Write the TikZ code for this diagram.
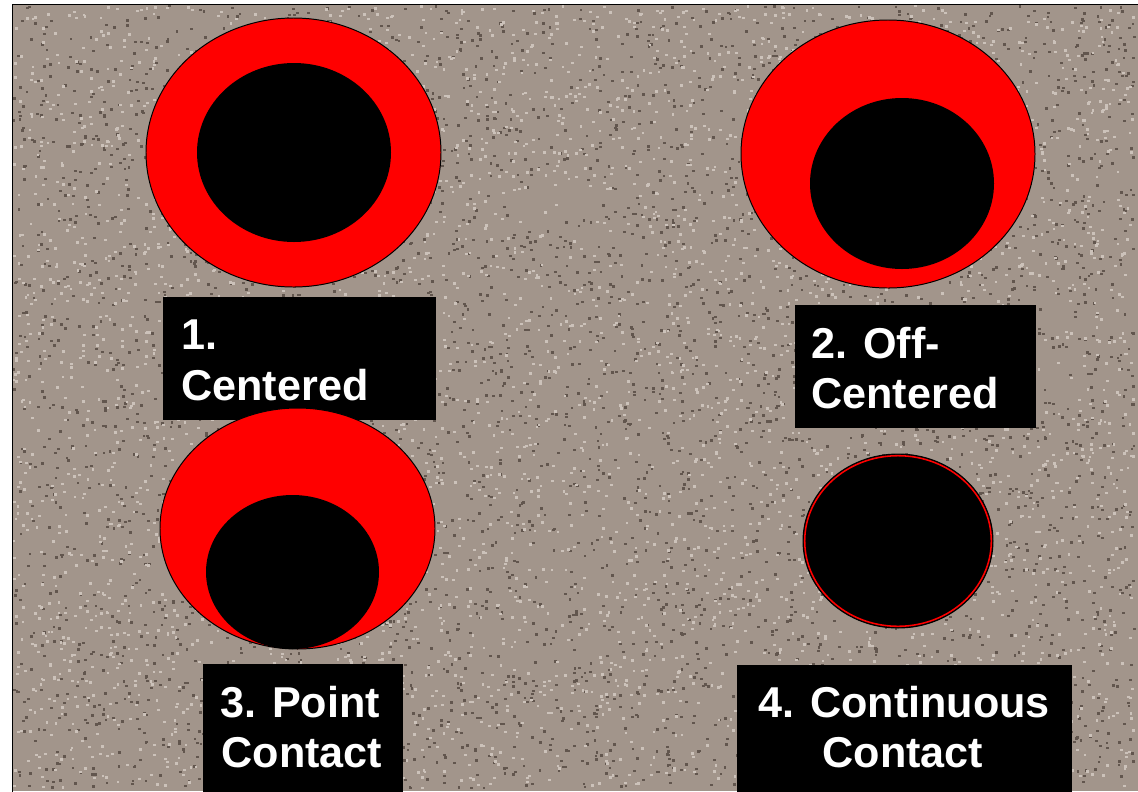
\documentclass[tikz,border=0pt]{standalone}
\usepackage{fontspec}
\setmainfont{Liberation Sans}
\usetikzlibrary{positioning}
\definecolor{granite}{RGB}{162,149,139}
\definecolor{granlight}{RGB}{204,194,186}
\definecolor{grandark}{RGB}{98,86,78}
\definecolor{holered}{RGB}{255,0,0}

\begin{document}
\begin{tikzpicture}[x=0.025cm,y=-0.025cm,
  hole/.style={fill=holered,draw=black,line width=0.7pt},
  pipe/.style={fill=black},
  tagbox/.style={fill=black},
  caption/.style={text=white,inner sep=0pt,
    font=\fontsize{30.7}{36}\selectfont\bfseries},
]
  \useasboundingbox (0,0) rectangle (1138,791);

  % granite backdrop
  \fill[granite] (12,4.5) rectangle (1138,791);
  \pgfmathsetseed{17}
  \foreach \i in {1,...,4500}{
    \pgfmathsetmacro\px{12+1121*rnd}
    \pgfmathsetmacro\py{5+782*rnd}
    \fill[grandark] (\px,\py) rectangle ++(2.8,2.4);
  }
  \foreach \i in {1,...,4500}{
    \pgfmathsetmacro\px{12+1121*rnd}
    \pgfmathsetmacro\py{5+782*rnd}
    \fill[granlight] (\px,\py) rectangle ++(2.8,2.4);
  }
  \draw[line width=1.1pt] (12.5,795) -- (12.5,4.5) -- (1142,4.5);

  % 1. centered
  \draw[hole] (293.5,152.5) ellipse[x radius=147.5,y radius=134.5];
  \fill[pipe] (294,152.5) ellipse[x radius=97,y radius=89.5];
  \fill[tagbox] (163,297) rectangle (436,420);
  \node[caption,anchor=base west] (cap1a) at (181,349) {1.};
  \node[caption,anchor=base west] (cap1b) at (181,400) {Centered};

  % 2. off-centered
  \draw[hole] (888,154) ellipse[x radius=147,y radius=134];
  \fill[pipe] (902,183.5) ellipse[x radius=92,y radius=85.5];
  \fill[tagbox] (795,305) rectangle (1036,428);
  \node[caption,anchor=base west] (cap2a) at (811,358) {2. Off-};
  \node[caption,anchor=base west] (cap2b) at (811,408) {Centered};

  % 3. point contact
  \draw[hole] (297.5,528.5) ellipse[x radius=137.5,y radius=120.5];
  \fill[pipe] (292.5,572) ellipse[x radius=86.5,y radius=77];
  \fill[tagbox] (203,664) rectangle (403,792);
  \node[caption,anchor=base] (cap3a) at (300,717) {3. Point};
  \node[caption,anchor=base] (cap3b) at (302,767) {Contact};

  % 4. continuous contact
  \draw[pipe,draw=black,line width=0.7pt] (898,541) ellipse[x radius=95,y radius=87];
  \draw[holered,line width=1.1pt] (898,541) ellipse[x radius=93.3,y radius=85.3];
  \fill[tagbox] (737,665) rectangle (1072,792);
  \node[caption,anchor=base] (cap4a) at (904,717) {4. Continuous};
  \node[caption,anchor=base] (cap4b) at (903,767) {Contact};
\end{tikzpicture}
\end{document}
